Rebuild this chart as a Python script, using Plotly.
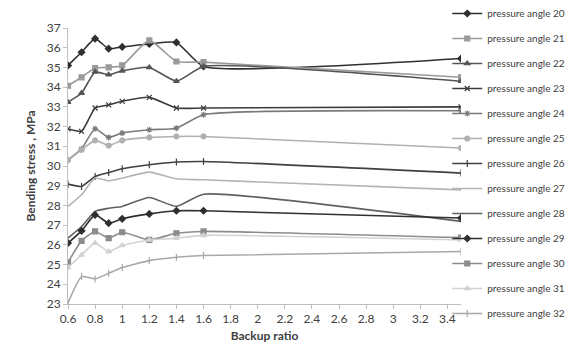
import plotly.graph_objects as go

backup_ratio = [0.6, 0.7, 0.8, 0.9, 1.0, 1.2, 1.4, 1.6, 3.5]

pa20 = [35.10, 35.77, 36.46, 35.95, 36.04, 36.19, 36.27, 35.05, 35.45]
pa21 = [34.07, 34.50, 34.97, 35.00, 35.10, 36.37, 35.30, 35.27, 34.50]
pa22 = [33.24, 33.70, 34.77, 34.63, 34.83, 35.00, 34.30, 35.05, 34.30]
pa23 = [31.89, 31.76, 32.94, 33.10, 33.28, 33.48, 32.94, 32.94, 33.00]
pa24 = [30.31, 30.87, 31.89, 31.45, 31.67, 31.84, 31.92, 32.60, 32.80]
pa25 = [30.30, 30.82, 31.30, 31.04, 31.30, 31.45, 31.50, 31.50, 30.91]
pa26 = [29.08, 28.96, 29.47, 29.67, 29.86, 30.06, 30.20, 30.23, 29.64]
pa27 = [27.95, 28.54, 29.39, 29.25, 29.39, 29.69, 29.35, 29.30, 28.79]
pa28 = [26.34, 26.93, 27.70, 27.86, 27.95, 28.40, 27.95, 28.57, 27.19]
pa29 = [26.09, 26.71, 27.52, 27.10, 27.32, 27.57, 27.73, 27.73, 27.36]
pa30 = [25.11, 26.20, 26.68, 26.34, 26.64, 26.25, 26.59, 26.68, 26.37]
pa31 = [24.85, 25.49, 26.09, 25.66, 25.97, 26.25, 26.34, 26.48, 26.25]
pa32 = [23.05, 24.39, 24.27, 24.56, 24.85, 25.20, 25.37, 25.46, 25.66]

series_names = ["pressure angle %d" % a for a in range(20, 33)]
series_values = [pa20, pa21, pa22, pa23, pa24, pa25, pa26, pa27, pa28, pa29, pa30, pa31, pa32]

x_ticks = [0.6, 0.8, 1, 1.2, 1.4, 1.6, 1.8, 2, 2.2, 2.4, 2.6, 2.8, 3, 3.2, 3.4]
x_tick_labels = ["0.6", "0.8", "1", "1.2", "1.4", "1.6", "1.8", "2", "2.2", "2.4", "2.6", "2.8", "3", "3.2", "3.4"]

styles = [
    ("#2f2f2f", "diamond", 5),
    ("#9a9a9a", "square", 5),
    ("#555555", "triangle-up", 5),
    ("#3c3c3c", "x-thin", 5),
    ("#7a7a7a", "asterisk", 5),
    ("#b0b0b0", "circle", 5),
    ("#404040", "line-ns", 5),
    ("#b4b4b4", None, 0),
    ("#606060", None, 0),
    ("#2f2f2f", "diamond", 5),
    ("#8c8c8c", "square", 5),
    ("#d2d2d2", "triangle-up", 5),
    ("#a8a8a8", "line-ns", 5),
]

fig = go.Figure()
for i, (name, vals) in enumerate(zip(series_names, series_values)):
    color, sym, size = styles[i]
    mode = "lines+markers" if sym else "lines"
    marker = dict(color=color, symbol=sym, size=size,
                  line=dict(color=color, width=1.2)) if sym else None
    fig.add_trace(go.Scatter(
        x=backup_ratio, y=vals, name=name, mode=mode,
        line=dict(color=color, width=1.6, shape="spline", smoothing=0.5),
        marker=marker, legendgroup=name,
    ))

fig.update_layout(
    width=573, height=347,
    margin=dict(l=60, r=120, t=20, b=51, autoexpand=False),
    paper_bgcolor="white", plot_bgcolor="white",
    font=dict(family="Lato, Open Sans, sans-serif", size=12, color="#404040"),
    legend=dict(x=0.965, y=1.105, xanchor="left", yanchor="top",
                font=dict(size=10, color="#404040"),
                tracegroupgap=6, itemwidth=30, bgcolor="rgba(0,0,0,0)",
                maxheight=347),
    showlegend=True,
)
fig.update_xaxes(
    range=[0.6, 3.5], tickvals=x_ticks, ticktext=x_tick_labels,
    showgrid=False, zeroline=False, showline=True, linecolor="#bfbfbf",
    ticks="outside", ticklen=4, tickcolor="#bfbfbf",
    title=dict(text="<b>Backup ratio</b>", font=dict(size=12, color="#404040"), standoff=6),
)
fig.update_yaxes(
    range=[23, 37], dtick=1, showgrid=False, zeroline=False,
    showline=True, linecolor="#bfbfbf", ticks="outside", ticklen=4, tickcolor="#bfbfbf",
    title=dict(text="<b>Bending stress , MPa</b>", font=dict(size=12, color="#404040"), standoff=8),
)
fig.write_html("out.html")
